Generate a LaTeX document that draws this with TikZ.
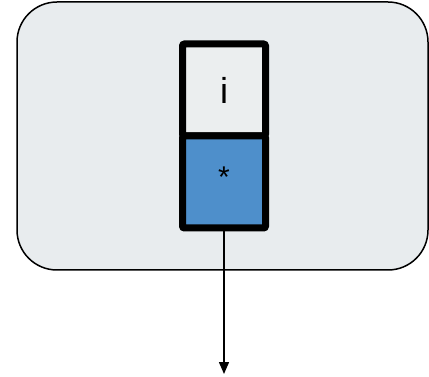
\documentclass[tikz,border=0pt]{standalone}
\usepackage{fontspec}
\setmainfont{Liberation Sans}
\usetikzlibrary{arrows.meta}
\definecolor{bggray}{HTML}{E8ECEE}
\definecolor{cellgray}{HTML}{EBEEEF}
\definecolor{cellblue}{HTML}{4E8FCB}
\tikzset{
  frame/.style={draw=black, line width=1.5pt, fill=bggray, rounded corners=40pt},
  cell/.style={draw=black, line width=7pt, minimum width=83pt, minimum height=92pt, inner sep=0pt, rounded corners=2pt},
  ptr/.style={draw=black, line width=1.5pt, -{Triangle[length=12pt,width=10pt]}}
}
\begin{document}
\begin{tikzpicture}[x=1pt,y=-1pt]
\useasboundingbox (0,0) rectangle (429,377);
\path[frame] (17,2) rectangle (428,270);
\node[cell, fill=cellgray, font=\fontsize{36}{40}\selectfont] (top) at (224,90) {i};
\node[cell, fill=cellblue, font=\fontsize{30}{34}\selectfont] (bot) at (224,182) {\raisebox{10pt}{*}};
\coordinate (end) at (224,374);
\draw[ptr] (bot.south) -- (end);
\end{tikzpicture}
\end{document}
